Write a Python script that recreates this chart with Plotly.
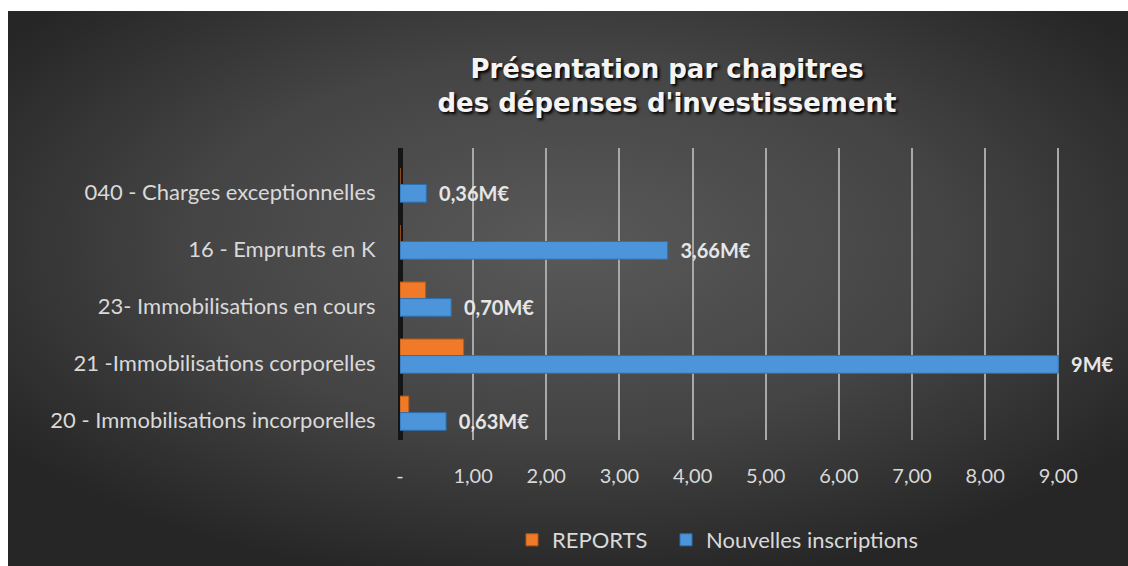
import base64
import plotly.graph_objects as go

categories = ["20 - Immobilisations incorporelles", "21 -Immobilisations corporelles",
              "23- Immobilisations en cours", "16 - Emprunts en K", "040 - Charges exceptionnelles"]
reports = [0.12, 0.87, 0.35, 0.0, 0.0]
nouvelles = [0.63, 9.0, 0.70, 3.66, 0.36]
nouvelles_labels = ["0,63M€", "9M€", "0,70M€", "3,66M€", "0,36M€"]
xtick_vals = [0, 1, 2, 3, 4, 5, 6, 7, 8, 9]
xtick_text = ["-", "1,00", "2,00", "3,00", "4,00", "5,00", "6,00", "7,00", "8,00", "9,00"]

W, H = 1128, 566
L, R, T, B = 400, 58, 148, 126
pw, ph = W - L - R, H - T - B

svg = ('<svg xmlns="http://www.w3.org/2000/svg" width="1120" height="555" preserveAspectRatio="none">'
       '<defs><radialGradient id="g" cx="50%" cy="42%" r="62%">'
       '<stop offset="0" stop-color="#595959"/><stop offset="0.55" stop-color="#444444"/>'
       '<stop offset="1" stop-color="#262626"/></radialGradient></defs>'
       '<rect width="1120" height="555" fill="url(#g)"/></svg>')
src = "data:image/svg+xml;base64," + base64.b64encode(svg.encode()).decode()


def px_x(p):
    return (p - L) / pw


def px_y(p):
    return (H - B - p) / ph


legend_font = dict(family="Lato", size=22, color="#D9D9D9")

fig = go.Figure()
fig.add_trace(go.Bar(
    y=categories, x=reports, orientation="h", name="REPORTS",
    marker=dict(color="#F07A28", line=dict(color="#B85A18", width=1)),
    offset=0.14, width=0.29, legend="legend",
))
fig.add_trace(go.Bar(
    y=categories, x=nouvelles, orientation="h", name="Nouvelles inscriptions",
    marker=dict(color="#4C95DA", line=dict(color="#2F6FAE", width=1)),
    offset=-0.17, width=0.31, legend="legend2",
    text=nouvelles_labels, texttemplate="\u00a0\u00a0%{text}",
    textposition="outside", cliponaxis=False, constraintext="none",
    textfont=dict(family="Lato", size=20, color="#E6E6E6", weight="bold"),
))

fig.add_layout_image(dict(
    source=src, xref="paper", yref="paper",
    x=px_x(8), y=px_y(11), sizex=1120 / pw, sizey=555 / ph,
    xanchor="left", yanchor="top", sizing="stretch", layer="below",
))

# white frame strips at top and left
fig.add_shape(type="rect", xref="paper", yref="paper", layer="above",
              x0=px_x(-5), x1=px_x(W + 5), y0=px_y(11), y1=px_y(-5),
              fillcolor="white", line_width=0)
fig.add_shape(type="rect", xref="paper", yref="paper", layer="above",
              x0=px_x(-5), x1=px_x(8), y0=px_y(H + 5), y1=px_y(-5),
              fillcolor="white", line_width=0)

fig.update_layout(
    width=W, height=H,
    margin=dict(l=L, r=R, t=T, b=B, pad=0, autoexpand=False),
    paper_bgcolor="#272727", plot_bgcolor="rgba(0,0,0,0)",
    barmode="overlay",
    font=dict(family="Lato", color="#D9D9D9"),
    title=dict(
        text="Présentation par chapitres<br>des dépenses d'investissement",
        x=667 / W, xanchor="center", y=1 - 78 / H, yanchor="middle",
        font=dict(family="DejaVu Sans", size=26, color="#F4F4F4", weight="bold",
                  shadow="2px 2px 3px #000000"),
    ),
    xaxis=dict(
        range=[0, 9.16], tickvals=xtick_vals, ticktext=xtick_text,
        showgrid=True, gridcolor="#A8A8A8", gridwidth=1.5,
        zeroline=True, zerolinecolor="#151515", zerolinewidth=5,
        tickfont=dict(family="Lato", size=20, color="#D9D9D9"),
        ticks="outside", ticklen=18, tickcolor="rgba(0,0,0,0)",
        showline=False, automargin=False,
    ),
    yaxis=dict(
        type="category", categoryorder="array", categoryarray=categories,
        range=[-0.34, 4.78], showgrid=False, zeroline=False, showline=False,
        tickfont=dict(family="Lato", size=22, color="#D9D9D9"),
        ticks="outside", ticklen=19, tickcolor="rgba(0,0,0,0)",
        automargin=False,
    ),
    legend=dict(
        orientation="h", x=px_x(512), xanchor="left",
        y=px_y(540), yanchor="middle",
        font=legend_font, bgcolor="rgba(0,0,0,0)", itemwidth=30,
    ),
    legend2=dict(
        orientation="h", x=px_x(666), xanchor="left",
        y=px_y(540), yanchor="middle",
        font=legend_font, bgcolor="rgba(0,0,0,0)", itemwidth=30,
    ),
    showlegend=True,
)

fig.write_html("out.html", config={"displayModeBar": False},
               post_script="document.body.style.margin='0px';")
